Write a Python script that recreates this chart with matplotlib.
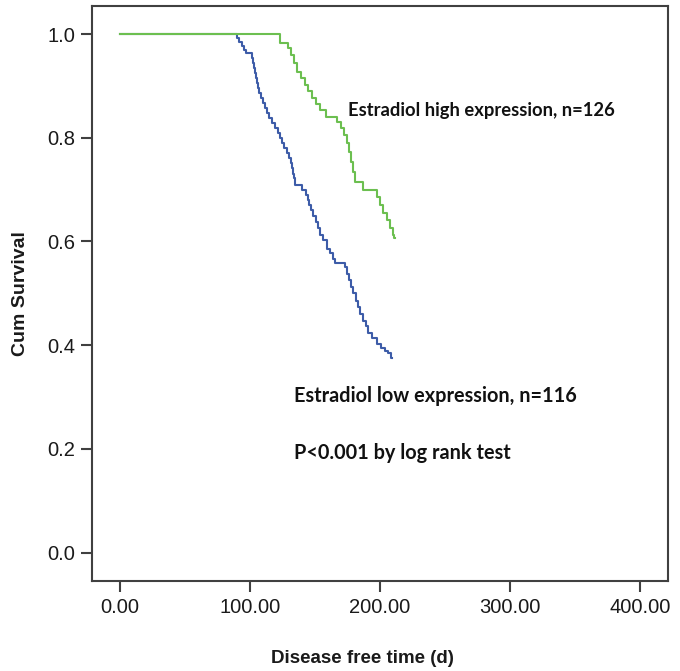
import numpy as np
import matplotlib
matplotlib.use('Agg')
import matplotlib.pyplot as plt

# Kaplan-Meier steps (time in days, survival after each drop)
highTimes = [123.1, 129.2, 131.5, 133.8, 136.2, 139.2, 142.3, 144.6, 147.7, 150.8,
             153.8, 158.5, 166.9, 170.0, 172.3, 174.6, 176.2, 177.7, 179.2, 180.8,
             186.9, 197.7, 200.0, 202.3, 205.4, 207.7, 210.0, 211.0]
highSurv = [0.983, 0.973, 0.959, 0.944, 0.927, 0.915, 0.901, 0.890, 0.876, 0.865,
            0.853, 0.840, 0.830, 0.818, 0.805, 0.789, 0.772, 0.753, 0.733, 0.714,
            0.699, 0.685, 0.670, 0.654, 0.641, 0.625, 0.612, 0.606]
highEnd = 211.5

lowTimes = [90.0, 91.5, 93.8, 95.4, 96.9, 101.5, 102.3, 103.1, 103.8, 104.6,
            105.4, 106.2, 106.9, 108.5, 110.0, 111.5, 113.1, 114.6, 116.9, 119.2,
            121.5, 123.1, 124.6, 126.2, 128.5, 130.0, 131.5, 132.3, 133.1, 133.8,
            134.6, 140.0, 143.1, 144.6, 145.4, 146.9, 148.5, 150.8, 152.3, 153.8,
            156.2, 159.2, 161.5, 163.8, 165.4, 173.1, 174.6, 176.2, 177.7, 179.2,
            181.5, 183.1, 184.6, 186.9, 189.2, 190.8, 193.8, 197.7, 200.8, 203.8,
            206.2, 208.5]
lowSurv = [0.992, 0.985, 0.977, 0.969, 0.963, 0.954, 0.944, 0.934, 0.925, 0.915,
           0.905, 0.896, 0.886, 0.876, 0.867, 0.857, 0.847, 0.838, 0.828, 0.818,
           0.809, 0.799, 0.789, 0.780, 0.770, 0.760, 0.751, 0.741, 0.731, 0.722,
           0.708, 0.699, 0.689, 0.679, 0.670, 0.660, 0.650, 0.637, 0.625, 0.612,
           0.602, 0.586, 0.577, 0.567, 0.559, 0.550, 0.538, 0.525, 0.513, 0.501,
           0.486, 0.474, 0.461, 0.447, 0.436, 0.424, 0.413, 0.403, 0.395, 0.389,
           0.384, 0.376]
lowEnd = 209.2

xTicks = [0, 100, 200, 300, 400]
yTicks = [0.0, 0.2, 0.4, 0.6, 0.8, 1.0]

labelHigh = 'Estradiol high expression, n=126'
labelLow = 'Estradiol low expression, n=116'
pText = 'P<0.001 by log rank test'


def kmLine(times, surv, end):
    xs = [0.0] + list(times) + [end]
    ys = [1.0] + list(surv) + [surv[-1]]
    return xs, ys


fig = plt.figure(figsize=(6.8, 6.71), dpi=100)
ax = fig.add_axes([0.1353, 0.134, 0.8467, 0.857])

x, y = kmLine(lowTimes, lowSurv, lowEnd)
ax.step(x, y, where='post', color='#3d5ca8', lw=1.5)
x, y = kmLine(highTimes, highSurv, highEnd)
ax.step(x, y, where='post', color='#6cbf50', lw=1.5)

ax.set_xlim(-21.5, 421.5)
ax.set_ylim(-0.055, 1.054)
ax.set_xticks(xTicks)
ax.set_xticklabels(['%.2f' % t for t in xTicks])
ax.set_yticks(yTicks)
ax.set_yticklabels(['%.1f' % t for t in yTicks])

for s in ax.spines.values():
    s.set_color('#404040')
    s.set_linewidth(1.5)
ax.tick_params(direction='out', length=8, width=1.5, color='#404040',
               labelsize=14.5, pad=4, top=False, right=False)
for lab in ax.get_xticklabels() + ax.get_yticklabels():
    lab.set_family('Liberation Sans')
    lab.set_color('#1a1a1a')

ax.set_xlabel('Disease free time (d)', family='Liberation Sans', weight='bold',
              fontsize=13.5, color='#1a1a1a')
ax.xaxis.set_label_coords(0.469, -0.119)
ax.set_ylabel('Cum Survival', family='Liberation Sans', weight='bold',
              fontsize=14, color='#1a1a1a')
ax.yaxis.set_label_coords(-0.11, 0.5)

tkw = dict(family='Lato', weight='bold', color='#111111', va='center')
ax.text(175.4, 0.853, labelHigh, fontsize=13.2, **tkw)
ax.text(133.8, 0.302, labelLow, fontsize=14.3, **tkw)
ax.text(133.8, 0.192, pText, fontsize=14.3, **tkw)

fig.savefig('out.png', dpi=100)
